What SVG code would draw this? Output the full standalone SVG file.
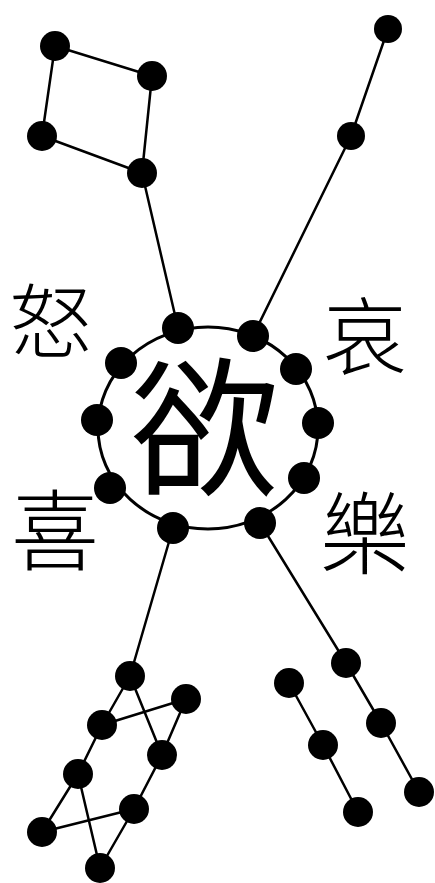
<svg xmlns="http://www.w3.org/2000/svg" width="435" height="883" viewBox="0 0 435 883">
<style>
.n{fill:#000}
.e{stroke:#000;stroke-width:2.5;fill:none;stroke-linecap:round}
.t{font-family:"Noto Sans CJK TC","Noto Sans CJK SC",sans-serif;font-weight:300;fill:#000;text-anchor:middle}
</style>
<rect width="435" height="883" fill="#fff"/>
<g id="connectors" class="e">
<line x1="55" y1="46" x2="152" y2="76"/>
<line x1="55" y1="46" x2="42" y2="136"/>
<line x1="152" y1="76" x2="142" y2="173"/>
<line x1="42" y1="136" x2="142" y2="173"/>
<line x1="142" y1="173" x2="178" y2="328"/>
<line x1="388" y1="29" x2="351" y2="136"/>
<line x1="351" y1="136" x2="253" y2="336"/>
<ellipse cx="208" cy="428" rx="110" ry="101" stroke-width="3"/>
<line x1="173" y1="528" x2="130" y2="676"/>
<line x1="130" y1="676" x2="102" y2="725"/>
<line x1="130" y1="676" x2="162" y2="755"/>
<line x1="102" y1="725" x2="186" y2="699"/>
<line x1="186" y1="699" x2="162" y2="755"/>
<line x1="102" y1="725" x2="78" y2="774"/>
<line x1="162" y1="755" x2="134" y2="809"/>
<line x1="78" y1="774" x2="42" y2="832"/>
<line x1="78" y1="774" x2="100" y2="868"/>
<line x1="42" y1="832" x2="134" y2="809"/>
<line x1="134" y1="809" x2="100" y2="868"/>
<line x1="260" y1="523" x2="346" y2="663"/>
<line x1="346" y1="663" x2="381" y2="723"/>
<line x1="381" y1="723" x2="419" y2="792"/>
<line x1="289" y1="683" x2="323" y2="745"/>
<line x1="323" y1="745" x2="358" y2="812"/>
</g>
<g id="sq1"><circle class="n" cx="55" cy="46" r="15"/></g>
<g id="sq2"><circle class="n" cx="152" cy="76" r="15"/></g>
<g id="sq3"><circle class="n" cx="42" cy="136" r="15"/></g>
<g id="sq4"><circle class="n" cx="142" cy="173" r="15"/></g>
<g id="tr1"><circle class="n" cx="388" cy="29" r="14"/></g>
<g id="tr2"><circle class="n" cx="351" cy="136" r="14"/></g>
<g id="r1"><circle class="n" cx="178" cy="328" r="16"/></g>
<g id="r2"><circle class="n" cx="253" cy="336" r="16"/></g>
<g id="r3"><circle class="n" cx="296" cy="369" r="16"/></g>
<g id="r4"><circle class="n" cx="318" cy="423" r="16"/></g>
<g id="r5"><circle class="n" cx="304" cy="478" r="16"/></g>
<g id="r6"><circle class="n" cx="260" cy="523" r="16"/></g>
<g id="r7"><circle class="n" cx="173" cy="528" r="16"/></g>
<g id="r8"><circle class="n" cx="110" cy="488" r="16"/></g>
<g id="r9"><circle class="n" cx="97" cy="420" r="16"/></g>
<g id="r10"><circle class="n" cx="121" cy="363" r="16"/></g>
<g id="bl1"><circle class="n" cx="130" cy="676" r="15"/></g>
<g id="bl2"><circle class="n" cx="186" cy="699" r="15"/></g>
<g id="bl3"><circle class="n" cx="102" cy="725" r="15"/></g>
<g id="bl4"><circle class="n" cx="162" cy="755" r="15"/></g>
<g id="bl5"><circle class="n" cx="78" cy="774" r="15"/></g>
<g id="bl6"><circle class="n" cx="134" cy="809" r="15"/></g>
<g id="bl7"><circle class="n" cx="42" cy="832" r="15"/></g>
<g id="bl8"><circle class="n" cx="100" cy="868" r="15"/></g>
<g id="br1"><circle class="n" cx="346" cy="663" r="15"/></g>
<g id="br2"><circle class="n" cx="381" cy="723" r="15"/></g>
<g id="br3"><circle class="n" cx="419" cy="792" r="15"/></g>
<g id="br4"><circle class="n" cx="289" cy="683" r="15"/></g>
<g id="br5"><circle class="n" cx="323" cy="745" r="15"/></g>
<g id="br6"><circle class="n" cx="358" cy="812" r="15"/></g>
<g id="center"><text class="t" x="205" y="484" font-size="150" font-weight="400" style="font-weight:400">欲</text></g>
<text class="t" x="51" y="352" font-size="82">怒</text>
<text class="t" x="55" y="563" font-size="88">喜</text>
<text class="t" x="365" y="368" font-size="84">哀</text>
<text class="t" x="365" y="567" font-size="90">樂</text>
</svg>
